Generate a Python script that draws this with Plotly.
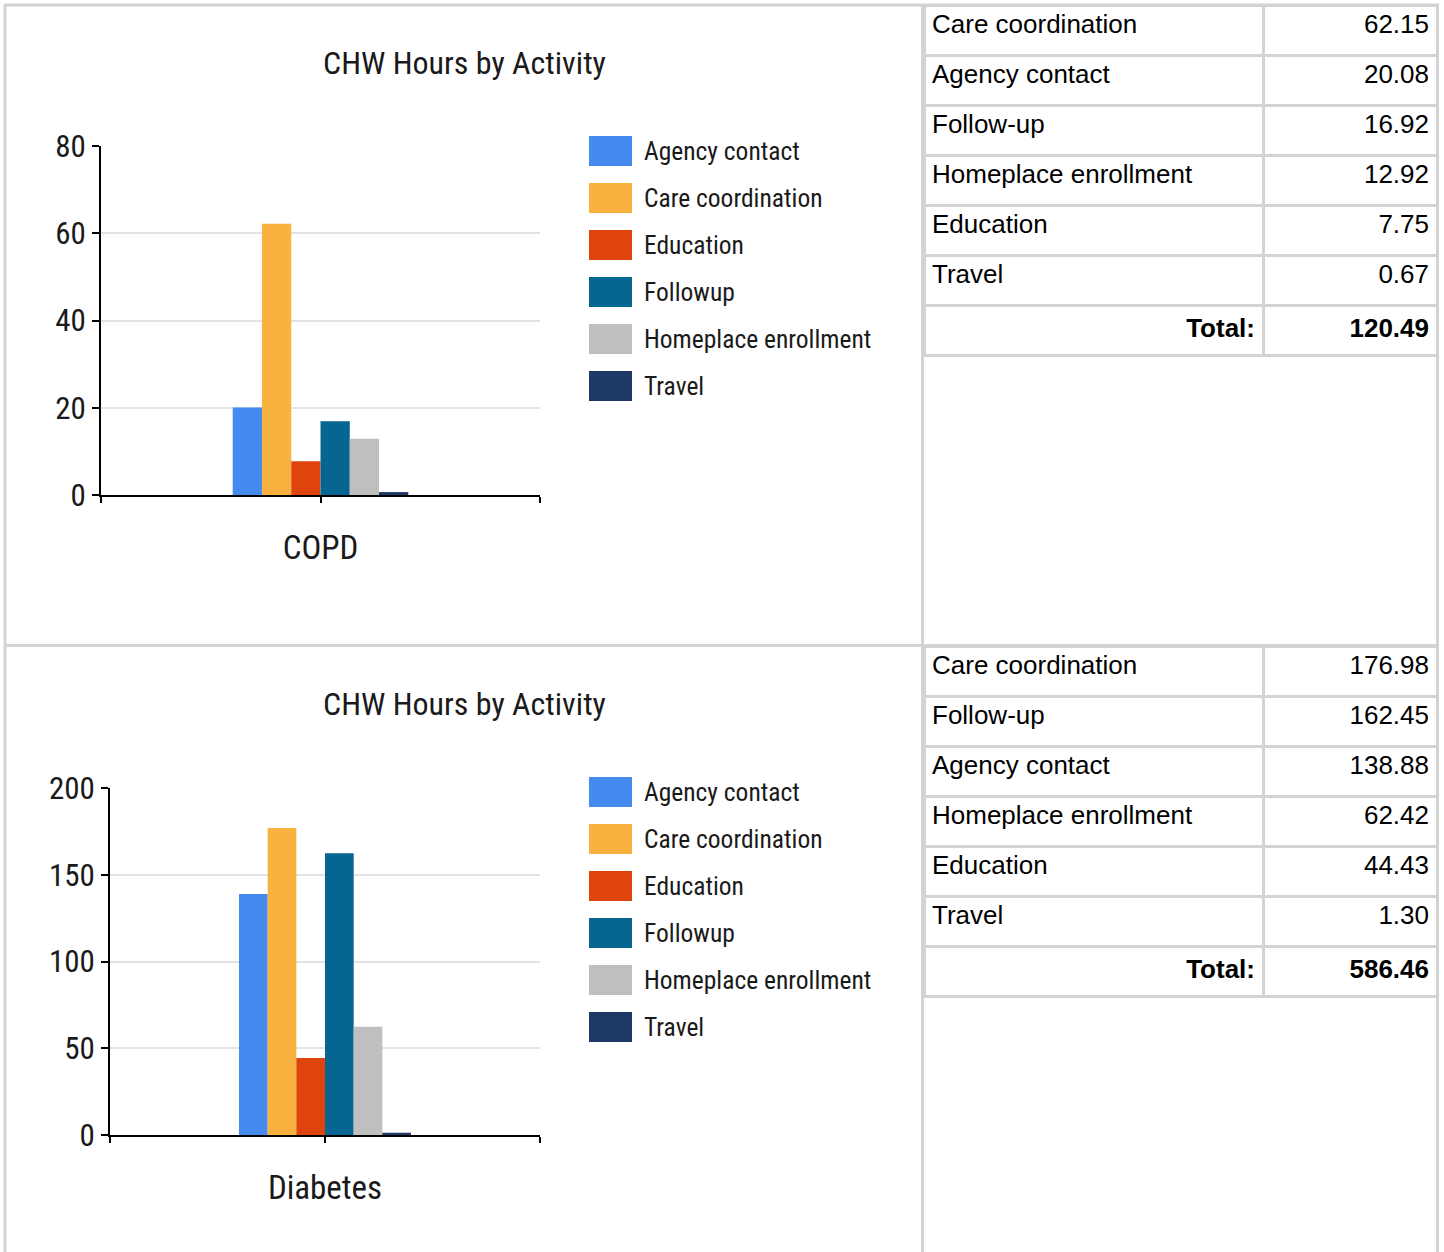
import plotly.graph_objects as go

# ---------------- data ----------------
activities = ["Agency contact", "Care coordination", "Education", "Followup",
              "Homeplace enrollment", "Travel"]
colors = ["#448AEF", "#F9B13F", "#DF440D", "#076591", "#BFBFBF", "#1E3867"]

copd_hours = [20.08, 62.15, 7.75, 16.92, 12.92, 0.67]
diabetes_hours = [138.88, 176.98, 44.43, 162.45, 62.42, 1.30]
group_names = ["COPD", "Diabetes"]
chart_title = "CHW Hours by Activity"

copd_table_labels = ["Care coordination", "Agency contact", "Follow-up",
                     "Homeplace enrollment", "Education", "Travel"]
copd_table_values = [62.15, 20.08, 16.92, 12.92, 7.75, 0.67]
copd_total = 120.49

diab_table_labels = ["Care coordination", "Follow-up", "Agency contact",
                     "Homeplace enrollment", "Education", "Travel"]
diab_table_values = [176.98, 162.45, 138.88, 62.42, 44.43, 1.30]
diab_total = 586.46

# ---------------- layout helpers ----------------
W, H = 1444, 1252
def px(x):
    return x / W
def py(y):
    return 1 - y / H

NARROW = "Roboto Condensed, Liberation Sans Narrow, Liberation Sans, sans-serif"
ARIAL = "Liberation Sans, Arial, sans-serif"
GRID = "#E3E3E3"
BORDER = "#D3D3D3"
TXT = "#1A1A1A"

def nfont(size):
    return dict(family=NARROW, size=size, color=TXT)

fig = go.Figure()

panels = [
    dict(hours=copd_hours, name=group_names[0], xa="x", ya="y", off=0,
         xdom=[px(101), px(540)], ydom=[py(495), py(146)], yrange=[0, 80], dtick=20),
    dict(hours=diabetes_hours, name=group_names[1], xa="x2", ya="y2", off=641,
         xdom=[px(110), px(540)], ydom=[py(1135), py(788)], yrange=[0, 200], dtick=50),
]

annotations = []
shapes = []

for p in panels:
    for act, val, col in zip(activities, p["hours"], colors):
        fig.add_trace(go.Bar(x=[0], y=[val], name=act, marker=dict(color=col, line=dict(width=0)),
                             xaxis=p["xa"], yaxis=p["ya"], showlegend=False))
    annotations.append(dict(text=chart_title, x=px(464), y=py(63 + p["off"]), xref="paper", yref="paper",
                            xanchor="center", yanchor="middle", showarrow=False, font=nfont(32)))
    for i, (act, col) in enumerate(zip(activities, colors)):
        cy = 151 + p["off"] + 47 * i
        shapes.append(dict(type="rect", xref="paper", yref="paper",
                           x0=px(589), x1=px(632), y0=py(cy + 15), y1=py(cy - 15),
                           fillcolor=col, line=dict(width=0), layer="above"))
        annotations.append(dict(text=act, x=px(642), y=py(cy), xref="paper", yref="paper",
                                xanchor="left", yanchor="middle", showarrow=False, font=nfont(25.5)))

xaxis_common = dict(range=[-0.5, 0.5], tickvals=[-0.5, 0, 0.5], showline=True, linecolor="black",
                    linewidth=2, ticks="outside", ticklen=6, tickwidth=2, tickcolor="black",
                    showgrid=False, zeroline=False, fixedrange=True, automargin=False,
                    tickfont=nfont(33), ticklabelstandoff=16)
yaxis_common = dict(showline=True, linecolor="black", linewidth=2, ticks="outside", ticklen=7,
                    tickwidth=2, tickcolor="black", showgrid=True, gridcolor=GRID, gridwidth=2,
                    zeroline=False, fixedrange=True, automargin=False,
                    tickfont=nfont(31), ticklabelstandoff=0)

layout_axes = {}
for k, p in enumerate(panels):
    sfx = "" if k == 0 else str(k + 1)
    layout_axes["xaxis" + sfx] = dict(xaxis_common, domain=p["xdom"], anchor="y" + sfx,
                                      ticktext=["", p["name"], ""])
    layout_axes["yaxis" + sfx] = dict(yaxis_common, domain=p["ydom"], anchor="x" + sfx,
                                      range=p["yrange"], dtick=p["dtick"])

# ---------------- tables ----------------
def cell_style():
    return dict(line=dict(color=BORDER, width=3), fill=dict(color="white"),
                font=dict(family=ARIAL, size=26, color="black"))

def add_table(labels, values, total, ytop):
    fig.add_trace(go.Table(
        domain=dict(x=[px(924), px(1437)], y=[py(ytop + 310), py(ytop)]),
        columnwidth=[339, 174],
        header=dict(values=[labels[0], "%.2f" % values[0]], height=50,
                    align=["left", "right"], **cell_style()),
        cells=dict(values=[labels[1:], ["%.2f" % v for v in values[1:]]], height=50,
                   align=["left", "right"], **cell_style()),
    ))
    fig.add_trace(go.Table(
        domain=dict(x=[px(924), px(1437)], y=[py(ytop + 400), py(ytop + 300)]),
        columnwidth=[339, 174],
        header=dict(values=["<b>Total:</b>", "<b>%.2f</b>" % total], height=50,
                    align=["right", "right"], **cell_style()),
        cells=dict(values=[[], []], height=50, **cell_style()),
    ))

add_table(copd_table_labels, copd_table_values, copd_total, 5)
add_table(diab_table_labels, diab_table_values, diab_total, 646)

# ---------------- outer frame ----------------
def line(x0, y0, x1, y1):
    shapes.append(dict(type="line", xref="paper", yref="paper", x0=px(x0), y0=py(y0),
                       x1=px(x1), y1=py(y1), line=dict(color=BORDER, width=3), layer="below"))

line(5, 5, 5, 1252)
line(4, 5, 1439, 5)
line(4, 645.5, 1439, 645.5)
line(922.5, 5, 922.5, 1252)
line(1437.5, 5, 1437.5, 1252)

fig.update_layout(width=W, height=H, margin=dict(l=0, r=0, t=0, b=0, autoexpand=False),
                  paper_bgcolor="white", plot_bgcolor="white",
                  barmode="group", bargap=0.6, bargroupgap=0,
                  annotations=annotations, shapes=shapes, **layout_axes)

fig.write_html("out.html")
